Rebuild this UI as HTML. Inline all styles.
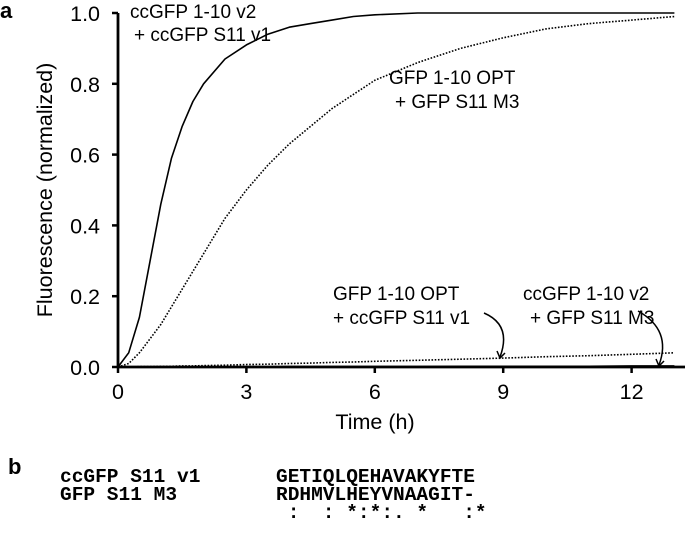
<!DOCTYPE html>
<html><head><meta charset="utf-8"><style>
body{margin:0;background:#fff;width:685px;height:533px;overflow:hidden}
svg text{font-family:"Liberation Sans",Arial,sans-serif;fill:#000}
.m{font-family:"Liberation Mono",monospace;font-weight:bold;font-size:19.5px}
</style></head><body>
<svg id="c" width="685" height="533">
<text x="0" y="18" font-size="22" font-weight="bold">a</text>
<text x="8" y="474" font-size="22" font-weight="bold">b</text>
<g id="axes"></g><g id="series"></g>
<text x="52" y="190" font-size="21.5" text-anchor="middle" transform="rotate(-90 52 190)">Fluorescence (normalized)</text>
<text x="375" y="429" font-size="21.5" text-anchor="middle">Time (h)</text>
<g font-size="19">
<text x="130" y="18">ccGFP 1-10 v2</text>
<text x="134" y="41">+ ccGFP S11 v1</text>
<text x="389" y="84">GFP 1-10 OPT</text>
<text x="395" y="108">+ GFP S11 M3</text>
<text x="333" y="300">GFP 1-10 OPT</text>
<text x="333" y="324">+ ccGFP S11 v1</text>
<text x="523" y="300">ccGFP 1-10 v2</text>
<text x="530" y="324">+ GFP S11 M3</text>
</g>
<path d="M484 313 Q512 325 500 357" fill="none" stroke="#000" stroke-width="1.5"/>
<path d="M497 351 L500 358 L505 353" fill="none" stroke="#000" stroke-width="1.5"/>
<path d="M638 311 Q672 330 659 365" fill="none" stroke="#000" stroke-width="1.5"/>
<path d="M656 359 L659 366 L664 361" fill="none" stroke="#000" stroke-width="1.5"/>
<text class="m" x="60" y="482">ccGFP S11 v1</text>
<text class="m" x="60" y="500">GFP S11 M3</text>
<text class="m" x="276" y="482">GETIQLQEHAVAKYFTE</text>
<text class="m" x="276" y="500">RDHMVLHEYVNAAGIT-</text>
<text class="m" x="276" y="518" xml:space="preserve"> :  : *:*:. *   :*</text>
</svg>
<script>
const times=[0,0.25,0.5,0.75,1,1.25,1.5,1.75,2,2.5,3,3.5,4,4.5,5,5.5,6,7,8,9,10,11,12,13];
const solidV1=[0,0.04,0.14,0.3,0.46,0.59,0.68,0.75,0.8,0.87,0.91,0.94,0.96,0.97,0.98,0.99,0.995,1,1,1,1,1,1,1];
const dottedM3=[0,0.01,0.04,0.08,0.12,0.17,0.22,0.27,0.32,0.42,0.5,0.57,0.63,0.68,0.73,0.77,0.81,0.86,0.9,0.93,0.955,0.97,0.98,0.99];
const dottedOptV1=[0,0,0.001,0.001,0.002,0.002,0.003,0.003,0.004,0.005,0.007,0.008,0.01,0.011,0.013,0.014,0.016,0.019,0.022,0.025,0.029,0.032,0.036,0.04];
const solidV2M3=[0,0,0,0,0,0,0,0,0,0,0,0,0.001,0.001,0.001,0.001,0.001,0.001,0.002,0.002,0.002,0.002,0.003,0.003];
const xTicks=[0,3,6,9,12];
const yTicks=[0,0.2,0.4,0.6,0.8,1.0];
const X=t=>118+t*42.8, Y=v=>367-v*354;
const NS='http://www.w3.org/2000/svg';
const ax=document.getElementById('axes'), se=document.getElementById('series');
function mk(tag,attrs,parent){const e=document.createElementNS(NS,tag);for(const k in attrs)e.setAttribute(k,attrs[k]);parent.appendChild(e);return e;}
let a=mk('line',{x1:118,y1:Y(1),x2:118,y2:368,stroke:'#000','stroke-width':2.8},ax);


a=mk('line',{x1:117,y1:367,x2:685,y2:367,stroke:'#000','stroke-width':2.8},ax);


yTicks.forEach(v=>{
 const t=mk('line',{x1:112,y1:Y(v),x2:118,y2:Y(v),stroke:'#000','stroke-width':2.5},ax);
 
 
 const l=mk('text',{x:100,y:Y(v)+8,'font-size':21.5,'text-anchor':'end'},ax);l.textContent=v.toFixed(1);
 
 
});
xTicks.forEach(v=>{
 const t=mk('line',{x1:X(v),y1:367,x2:X(v),y2:373,stroke:'#000','stroke-width':2.5},ax);
 
 
 const l=mk('text',{x:X(v),y:399,'font-size':21.5,'text-anchor':'middle'},ax);l.textContent=v;
 
 
});
function line(vals,dotted,name){
 const d=vals.map((v,i)=>(i?'L':'M')+X(times[i]).toFixed(1)+' '+Y(v).toFixed(1)).join(' ');
 const p=mk('path',{d:d,fill:'none',stroke:'#000','stroke-width':1.6,'stroke-dasharray':dotted?'1.6 1.6':'none','stroke-linejoin':'round'},se);
 
 
}
line(solidV1,false,'series-ccgfp-v2-v1');
line(dottedM3,true,'series-opt-m3');
line(dottedOptV1,true,'series-opt-v1');
line(solidV2M3,false,'series-v2-m3');
</script>
</body></html>
